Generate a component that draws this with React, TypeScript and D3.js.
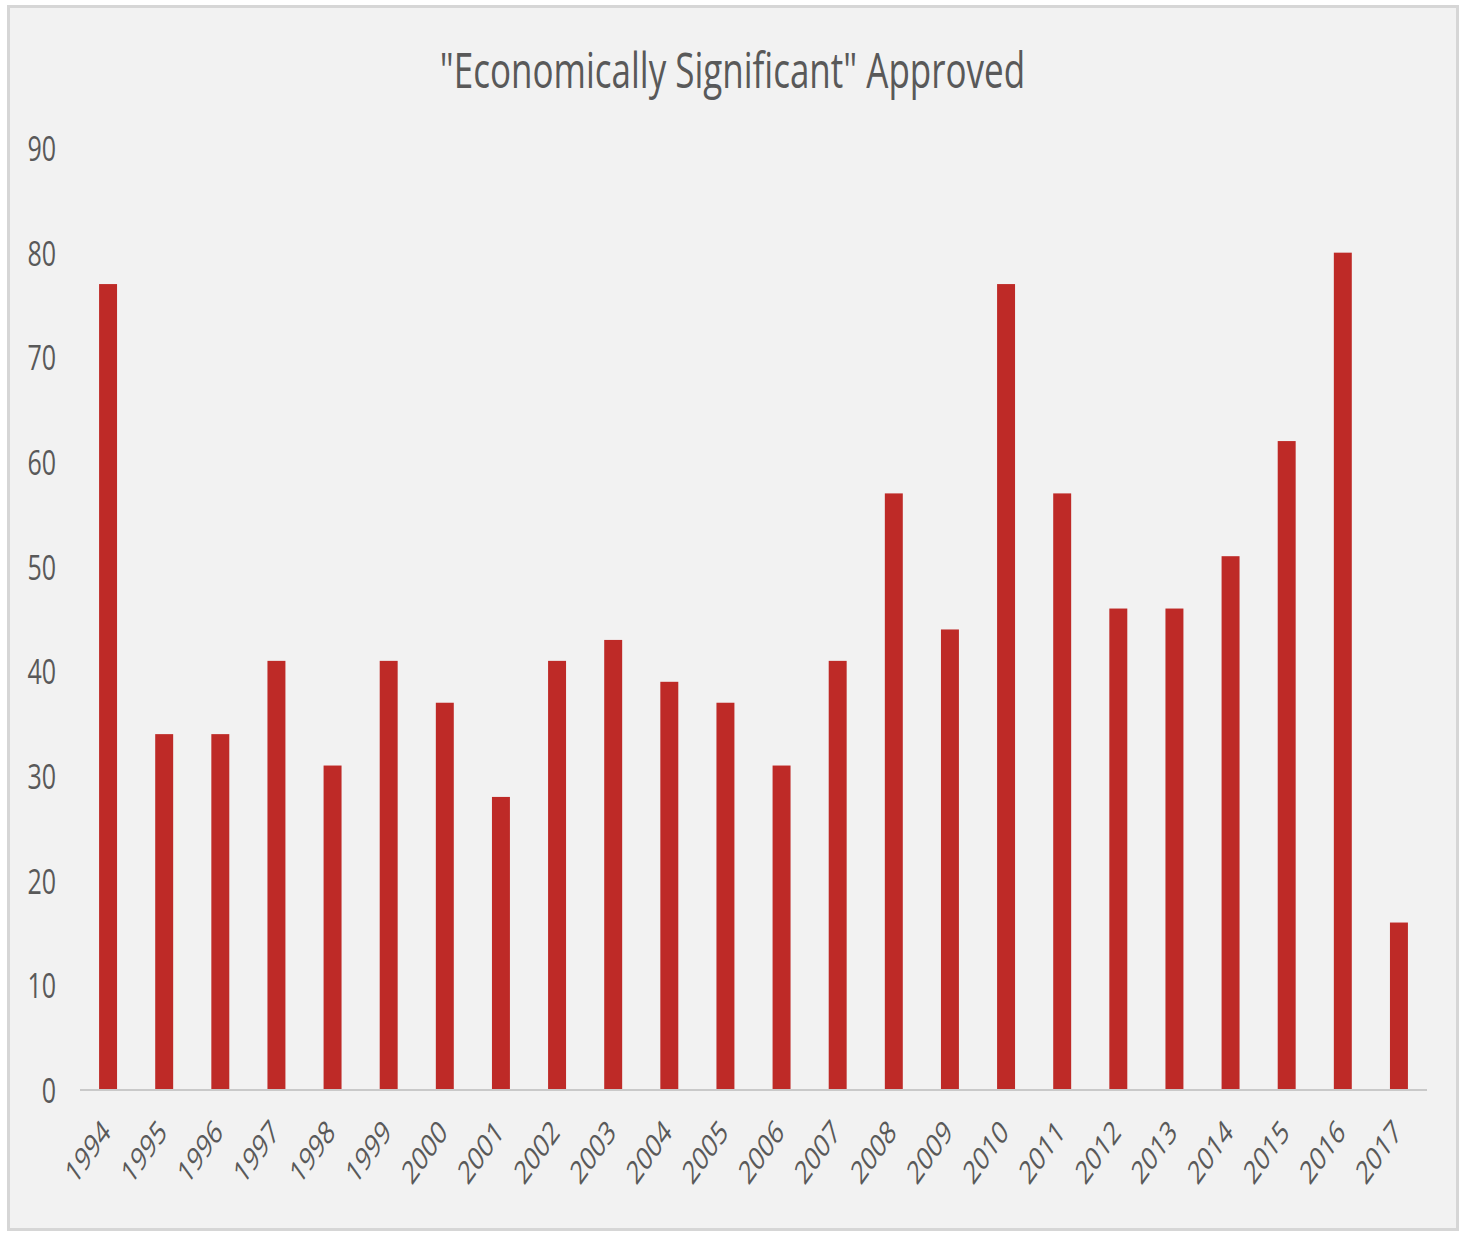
import React from "react";
import * as d3 from "d3";

const years = [
  "1994", "1995", "1996", "1997", "1998", "1999", "2000", "2001", "2002", "2003", "2004", "2005",
  "2006", "2007", "2008", "2009", "2010", "2011", "2012", "2013", "2014", "2015", "2016", "2017",
];
const approved = [77, 34, 34, 41, 31, 41, 37, 28, 41, 43, 39, 37, 31, 41, 57, 44, 77, 57, 46, 46, 51, 62, 80, 16];
const yTicks = [0, 10, 20, 30, 40, 50, 60, 70, 80, 90];
const title = "\"Economically Significant\" Approved";

const W = 1465;
const H = 1233;
const margin = { top: 148, right: 38, bottom: 143, left: 80 };
const stretch = 1.4; // source image is stretched vertically
const font = "'Open Sans', 'DejaVu Sans', sans-serif";
const textColor = "#595959";

const App = () => {
  const x = d3
    .scaleBand()
    .domain(years)
    .range([margin.left, W - margin.right])
    .paddingInner(0.68)
    .paddingOuter(0.34);

  const y = d3
    .scaleLinear()
    .domain([0, 90])
    .range([H - margin.bottom, margin.top]);

  const data = years.map((year, i) => ({ year, value: approved[i] }));

  return (
    <div style={{ position: "absolute", left: 0, top: 0 }}>
      <svg width={W} height={H} style={{ display: "block" }}>
        <rect x={0} y={0} width={W} height={H} fill="#ffffff" />
        <rect x={8.5} y={6.5} width={1449} height={1223} fill="#f2f2f2" stroke="#d6d6d6" strokeWidth={3} />

        {/* Title */}
        <text
          transform={`translate(${W / 2}, 88) scale(1, ${stretch})`}
          textAnchor="middle"
          fontFamily={font}
          fontSize={35}
          fill={textColor}
        >
          {title}
        </text>

        {/* Y axis labels */}
        {yTicks.map((t) => (
          <text
            key={t}
            transform={`translate(56, ${y(t) + 13}) scale(1, ${stretch})`}
            textAnchor="end"
            fontFamily={font}
            fontSize={25}
            fill={textColor}
          >
            {t}
          </text>
        ))}

        {/* Bars */}
        {data.map((d) => (
          <rect
            key={d.year}
            x={x(d.year)}
            y={y(d.value)}
            width={x.bandwidth()}
            height={y(0) - y(d.value)}
            fill="#be2a27"
          />
        ))}

        {/* Baseline */}
        <line
          x1={margin.left}
          x2={W - margin.right}
          y1={y(0)}
          y2={y(0)}
          stroke="#c9c9c9"
          strokeWidth={2}
        />

        {/* X axis labels */}
        {data.map((d) => (
          <text
            key={d.year}
            transform={`translate(${x(d.year) + x.bandwidth() / 2 + 4}, ${y(0) + 44}) scale(1, ${stretch}) rotate(-45)`}
            textAnchor="end"
            fontFamily={font}
            fontSize={23}
            fill={textColor}
          >
            {d.year}
          </text>
        ))}
      </svg>
    </div>
  );
};

export default App;
